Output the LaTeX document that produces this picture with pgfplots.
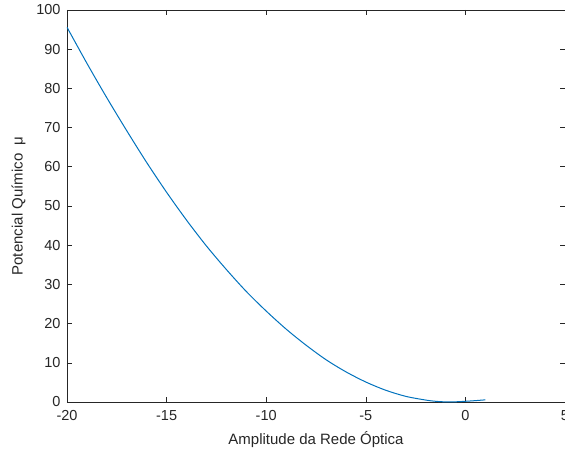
\documentclass[border=0pt]{standalone}
\usepackage{pgfplots}
\pgfplotsset{compat=1.18}
\usepackage{fontspec}
\setmainfont{Liberation Sans}
\usetikzlibrary{calc}
\definecolor{mblue}{rgb}{0,0.447,0.741}
\definecolor{axgray}{rgb}{0.15,0.15,0.15}
\begin{document}
\begin{tikzpicture}
\begin{axis}[
  scale only axis,
  width=498bp, height=392bp,
  xmin=-20, xmax=5, ymin=0, ymax=100,
  xtick={-20,-15,...,5},
  ytick={0,10,...,100},
  tick align=inside,
  major tick length=5bp,
  axis line style={axgray, line width=0.6bp},
  every tick/.style={axgray, line width=0.6bp},
  tick label style={font=\fontsize{14.5bp}{17bp}\selectfont, text=axgray},
  xticklabel style={yshift=-5bp},
  yticklabel style={xshift=-3bp},
  /pgf/number format/assume math mode=true,
  xlabel={Amplitude da Rede Óptica},
  ylabel={Potencial Químico\ \ μ},
  label style={font=\fontsize{15bp}{18bp}\selectfont, text=axgray},
  xlabel style={yshift=-4bp},
  ylabel style={yshift=4bp},
]
\addplot[mblue, line width=1bp, smooth] coordinates {
(-20,95.6) (-19,86.4) (-18,77.6) (-17,69.2) (-16,61.1) (-15,53.5)
(-14,46.4) (-13,39.8) (-12,33.8) (-11,28.2) (-10,23.2) (-9,18.6)
(-8,14.5) (-7,10.8) (-6,7.7) (-5,5.1) (-4,3.0) (-3,1.45) (-2,0.5)
(-1.5,0.18) (-1,0.03) (-0.5,0.05) (0,0.18) (0.5,0.35) (1,0.55)
};
\end{axis}
\pgfresetboundingbox
\useasboundingbox ($(current axis.south west)+(-67bp,-51.7bp)$) rectangle ($(current axis.north east)+(0bp,10bp)$);
\end{tikzpicture}
\end{document}
